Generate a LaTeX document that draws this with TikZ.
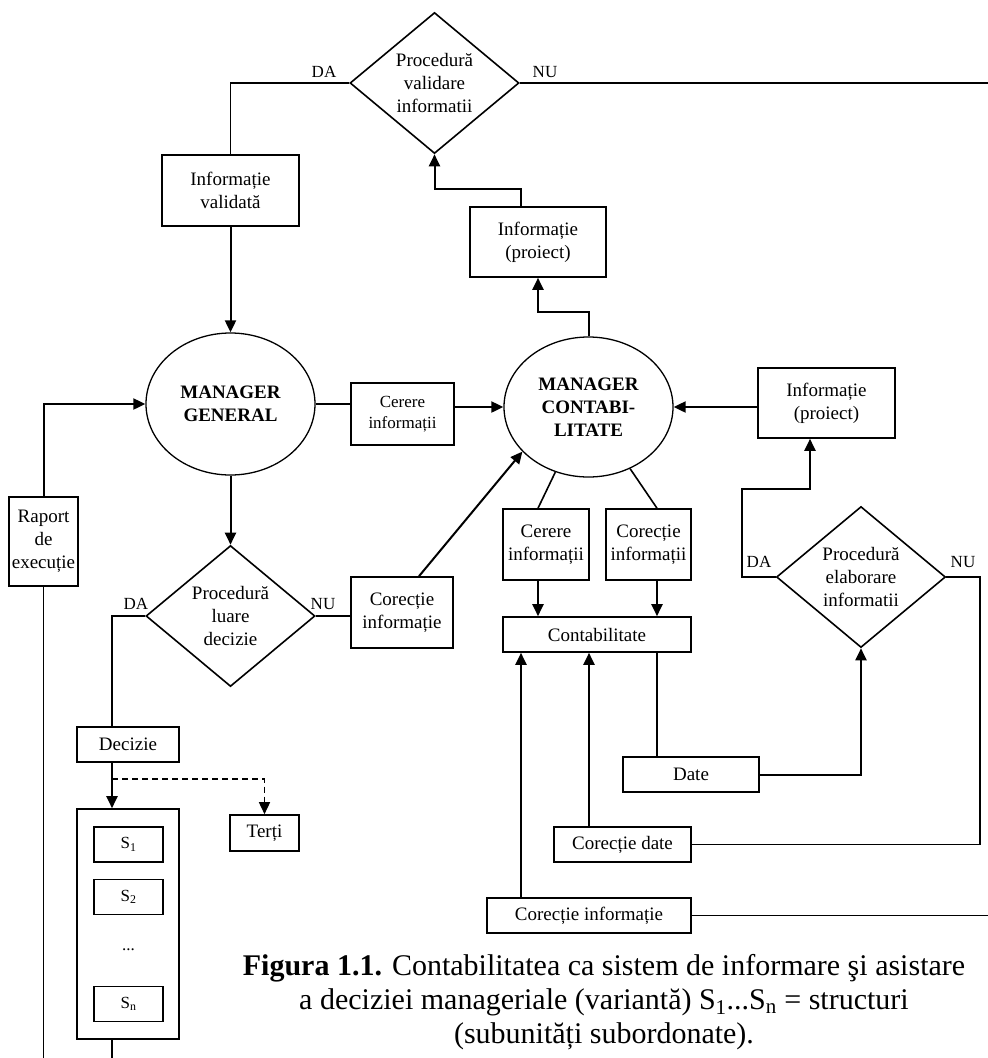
\documentclass[tikz,border=0pt]{standalone}
\usepackage{fontspec}
\setmainfont{Liberation Serif}
\usepackage{tikz}
\usetikzlibrary{positioning,shapes.geometric,arrows.meta}

\begin{document}
\begin{tikzpicture}[x=1pt,y=-1pt]
        \tikzstyle{every node}=[inner sep=0pt, align=center, font=\fontsize{19}{23}\selectfont]
        \tikzstyle{box}=[draw, line width=1.6pt]
        \tikzstyle{dia}=[draw, diamond, aspect=1.2, line width=1.6pt, minimum width=169pt, minimum height=141pt]
        \tikzstyle{ell}=[draw, ellipse, line width=1.3pt, minimum width=169pt, minimum height=142pt, font=\fontsize{19}{23}\selectfont\bfseries]
        \tikzstyle{ln}=[line width=1.6pt]
        \tikzstyle{arr}=[line width=2pt, -{Triangle[length=12pt,width=11pt]}]
        \tikzstyle{lab}=[font=\fontsize{17}{20}\selectfont]

        \useasboundingbox (0,0) rectangle (988,1058);

        \node   (val)   [dia] at (434.5,83) {Procedură\\validare\\informatii};
        \node   (iv)    [box, minimum width=137pt, minimum height=71pt] at (230.5,190.5) {Informație\\validată};
        \node   (ip1)   [box, minimum width=136pt, minimum height=70pt] at (538,242) {Informație\\(proiect)};
        \node   (mg)    [ell] at (230.5,404) {MANAGER\\GENERAL};
        \node   (ci1)   [box, minimum width=103pt, minimum height=62pt, font=\fontsize{17}{21}\selectfont] at (402.5,414) {Cerere\\informații};
        \node   (mc)    [ell, minimum height=140pt] at (588.5,407) {MANAGER\\CONTABI-\\LITATE};
        \node   (ip2)   [box, minimum width=137pt, minimum height=70pt] at (826.5,403) {Informație\\(proiect)};
        \node   (rap)   [box, minimum width=69pt, minimum height=89pt] at (43.5,541.5) {Raport\\de\\execuție};
        \node   (dec)   [dia] at (230.5,616) {Procedură\\luare\\decizie};
        \node   (cor1)  [box, minimum width=102pt, minimum height=71pt] at (402,612.5) {Corecție\\informație};
        \node   (ci2)   [box, minimum width=86pt, minimum height=71pt] at (546,544.5) {Cerere\\informații};
        \node   (cor2)  [box, minimum width=85pt, minimum height=71pt] at (648.5,544.5) {Corecție\\informații};
        \node   (cont)  [box, minimum width=188pt, minimum height=35pt] at (597,634.5) {Contabilitate};
        \node   (elab)  [dia] at (861,577) {Procedură\\elaborare\\informatii};
        \node   (date)  [box, minimum width=136pt, minimum height=35pt] at (691,774.5) {Date};
        \node   (cd)    [box, minimum width=137pt, minimum height=35pt] at (622.5,844.5) {Corecție date};
        \node   (ci3)   [box, minimum width=204pt, minimum height=35pt] at (589,915.5) {Corecție informație};
        \node   (decz)  [box, minimum width=102pt, minimum height=35pt] at (128,744.5) {Decizie};
        \node   (terti) [box, minimum width=69pt, minimum height=36pt] at (264.5,833) {Terți};
        \node   (sub)   [box, minimum width=102pt, minimum height=230pt] at (128,924) {};
        \node   (s1)    [box, lab, minimum width=69pt, minimum height=35pt] at (128.5,844.5) {S\textsubscript{1}};
        \node   (s2)    [box, lab, minimum width=69pt, minimum height=35pt] at (128.5,897) {S\textsubscript{2}};
        \node   (sd)    [lab] at (128.5,950) {...};
        \node   (sn)    [box, lab, minimum width=69pt, minimum height=35pt] at (128.5,1004) {S\textsubscript{n}};

        \node   (da1)   [lab] at (324,72) {DA};
        \node   (nu1)   [lab] at (545,72) {NU};
        \node   (da2)   [lab] at (136,604) {DA};
        \node   (nu2)   [lab] at (323,604) {NU};
        \node   (da3)   [lab] at (759,562) {DA};
        \node   (nu3)   [lab] at (963,562) {NU};

        \coordinate (r1)  at (988,83);
        \coordinate (bot) at (0,1058);
        \coordinate (k1)  at (521,189);
        \coordinate (k2)  at (538,312);
        \coordinate (k3)  at (112,779);
        \coordinate (k4)  at (742,489);
        \coordinate (k5)  at (980,577);
        \coordinate (p1)  at ([xshift=-8pt]ci2.south);
        \coordinate (p2)  at ([xshift=8.5pt]cor2.south);
        \coordinate (p3)  at ([xshift=-68pt]ci3.north);
        \coordinate (p4)  at ([xshift=-33.5pt]cd.north);
        \coordinate (p5)  at ([xshift=-34pt]date.north);
        \coordinate (p6)  at ([xshift=-16.5pt]ip2.south);

        \draw[ln] (val.west) -| (iv.north);
        \draw[ln] (val.east) -- (r1);
        \draw[arr] (iv.south) -- (mg.north);
        \draw[arr] (k1 |- ip1.north) -- (k1) -| (val.south);
        \draw[arr] (mc.north) |- (k2) -- (ip1.south);
        \draw[ln] (mg.east) -- (mg.east -| ci1.west);
        \draw[arr] (ci1.east |- mc.west) -- (mc.west);
        \draw[arr] (ip2.west |- mc.east) -- (mc.east);
        \draw[arr] (rap.north) |- (mg.west);
        \draw[ln] (rap.south) -- (rap.south |- bot);
        \draw[arr] (mg.south) -- (dec.north);
        \draw[ln] (dec.west) -| (k3 |- decz.north);
        \draw[ln] (dec.east) -- (dec.east -| cor1.west);
        \draw[arr] ([xshift=17pt]cor1.north) -- (mc.214);
        \draw[ln] ([xshift=-8pt]ci2.north) -- (mc.243);
        \draw[ln] ([xshift=8.5pt]cor2.north) -- (mc.304);
        \draw[arr] (p1) -- (p1 |- cont.north);
        \draw[arr] (p2) -- (p2 |- cont.north);
        \draw[arr] (p3) -- (p3 |- cont.south);
        \draw[arr] (p4) -- (p4 |- cont.south);
        \draw[ln] (p5) -- (p5 |- cont.south);
        \draw[arr] (date.east) -| (elab.south);
        \draw[ln] (elab.east) -- (k5) |- (cd.east);
        \draw[ln] (ci3.east) -- (ci3.east -| r1);
        \draw[arr] (elab.west) -| (k4) -| (p6);
        \draw[arr] (decz.south -| k3) -- (sub.north -| k3);
        \draw[arr, line width=1.5pt, dash pattern=on 6pt off 4pt] (k3) -| (terti.north);
        \draw[ln] (sub.south -| k3) -- (k3 |- bot);

        \node   (cap)   [font=\fontsize{30}{34}\selectfont, anchor=north] at (604,954) {\textbf{Figura 1.1.} Contabilitatea ca sistem de informare şi asistare\\a deciziei manageriale (variantă) S\textsubscript{1}...S\textsubscript{n} = structuri\\(subunități subordonate).};
\end{tikzpicture}
\end{document}
